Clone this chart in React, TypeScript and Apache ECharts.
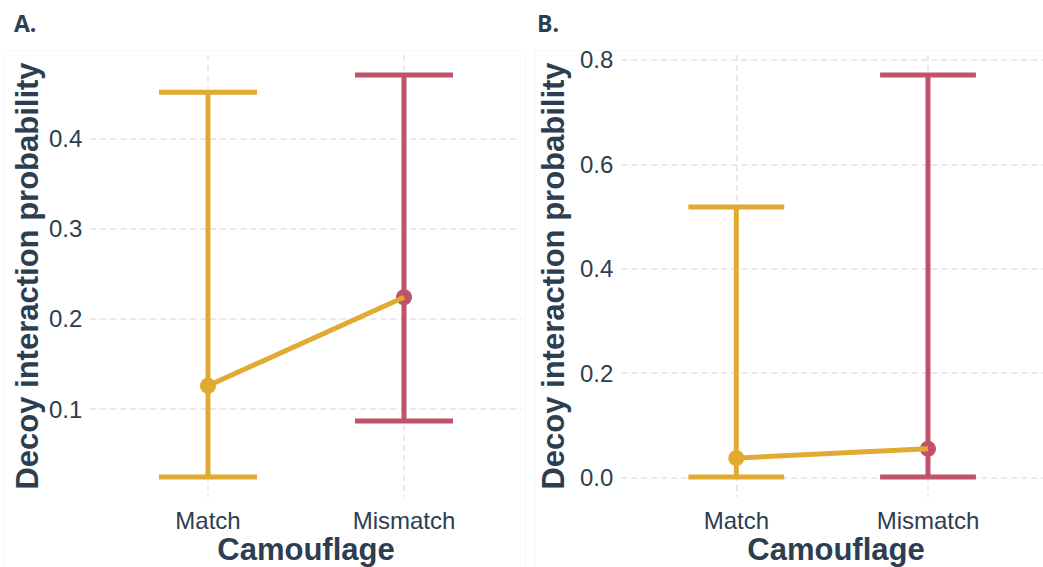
import React, { useEffect, useRef } from "react";
import * as echarts from "echarts";

// Camouflage treatment groups
const categories = ["Match", "Mismatch"];
const xPositions = [1, 2];

// Panel A: estimated probability with confidence limits
const panelAMean = [0.126, 0.224];
const panelALower = [0.025, 0.087];
const panelAUpper = [0.451, 0.47];
const panelATicks = [0.1, 0.2, 0.3, 0.4];

// Panel B: estimated probability with confidence limits
const panelBMean = [0.037, 0.055];
const panelBLower = [0.001, 0.001];
const panelBUpper = [0.518, 0.771];
const panelBTicks = [0.0, 0.2, 0.4, 0.6, 0.8];

const groupColors = ["#E1AA30", "#C0526A"];
const textColor = "#2C3E50";
const gridColor = "#E4E4E4";
const FONT = "'Liberation Sans', Arial, sans-serif";

const Y_TITLE = "Decoy interaction probability";
const X_TITLE = "Camouflage";

// 5% padding around the data range, like ggplot's default continuous expansion
function paddedRange(lower: number[], upper: number[]) {
  const lo = Math.min(...lower);
  const hi = Math.max(...upper);
  const pad = (hi - lo) * 0.05;
  return [lo - pad, hi + pad];
}

export default function App() {
  const ref = useRef<HTMLDivElement>(null);

  useEffect(() => {
    document.body.style.margin = "0";
    if (!ref.current) return;
    const chart = echarts.init(ref.current, undefined, { renderer: "svg" });

    const panels = [
      { mean: panelAMean, lower: panelALower, upper: panelAUpper, ticks: panelATicks },
      { mean: panelBMean, lower: panelBLower, upper: panelBUpper, ticks: panelBTicks },
    ];

    const grids = [
      { left: 90.4, top: 55, width: 431.2, height: 442 },
      { left: 621.3, top: 55, width: 429, height: 442 },
    ];

    const xAxes = grids.map((_, i) => ({
      type: "value",
      gridIndex: i,
      min: 0.4,
      max: 2.6,
      axisLine: { show: false },
      axisTick: { show: false, customValues: xPositions },
      axisLabel: {
        customValues: xPositions,
        formatter: (v: number) => categories[Math.round(v) - 1] ?? "",
        fontFamily: FONT,
        fontSize: 24,
        color: textColor,
        margin: 11,
      },
      splitLine: {
        show: true,
        lineStyle: { color: gridColor, width: 1.5, type: [6, 4] },
      },
    }));

    const yAxes = panels.map((p, i) => {
      const [min, max] = paddedRange(p.lower, p.upper);
      return {
        type: "value",
        gridIndex: i,
        min,
        max,
        axisLine: { show: false },
        axisTick: { show: false, customValues: p.ticks },
        axisLabel: {
          customValues: p.ticks,
          formatter: (v: number) => v.toFixed(1),
          fontFamily: FONT,
          fontSize: 24,
          color: textColor,
          margin: 8,
        },
        splitLine: {
          show: true,
          lineStyle: { color: gridColor, width: 1.5, type: [6, 4] },
        },
      };
    });

    const series: any[] = [];
    panels.forEach((p, i) => {
      // error bars with caps
      series.push({
        type: "custom",
        xAxisIndex: i,
        yAxisIndex: i,
        z: 2,
        encode: { x: 0, y: [1, 2] },
        data: xPositions.map((x, k) => [x, p.lower[k], p.upper[k]]),
        renderItem: (params: any, api: any) => {
          const x = api.value(0);
          const pLo = api.coord([x, api.value(1)]);
          const pHi = api.coord([x, api.value(2)]);
          const half = api.size([0.25, 0])[0];
          const style = { stroke: groupColors[params.dataIndex], lineWidth: 5, fill: "none" };
          return {
            type: "group",
            children: [
              { type: "line", shape: { x1: pLo[0], y1: pLo[1], x2: pHi[0], y2: pHi[1] }, style },
              { type: "line", shape: { x1: pHi[0] - half, y1: pHi[1], x2: pHi[0] + half, y2: pHi[1] }, style },
              { type: "line", shape: { x1: pLo[0] - half, y1: pLo[1], x2: pLo[0] + half, y2: pLo[1] }, style },
            ],
          };
        },
      });
      // point estimates
      series.push({
        type: "scatter",
        xAxisIndex: i,
        yAxisIndex: i,
        z: 3,
        symbolSize: 16,
        data: xPositions.map((x, k) => ({
          value: [x, p.mean[k]],
          itemStyle: { color: groupColors[k], opacity: 1 },
        })),
      });
      // connecting line
      series.push({
        type: "line",
        xAxisIndex: i,
        yAxisIndex: i,
        z: 4,
        showSymbol: false,
        lineStyle: { color: groupColors[0], width: 5 },
        data: xPositions.map((x, k) => [x, p.mean[k]]),
      });
    });

    const titleFont = `bold 31px ${FONT}`;
    const panelFont = `bold 23px 'Open Sans', sans-serif`;
    const graphic: any[] = [
      { type: "rect", shape: { x: 4.5, y: 50.5, width: 521, height: 540 }, style: { fill: "none", stroke: "#F8F8F8", lineWidth: 1 }, z: -1 },
      { type: "rect", shape: { x: 535.5, y: 50.5, width: 540, height: 540 }, style: { fill: "none", stroke: "#F8F8F8", lineWidth: 1 }, z: -1 },
      { type: "text", x: 14, y: 23, style: { text: "A.", font: panelFont, fill: textColor, verticalAlign: "middle" } },
      { type: "text", x: 537, y: 23, style: { text: "B.", font: panelFont, fill: textColor, verticalAlign: "middle" } },
      { type: "text", x: 27, y: 276, rotation: Math.PI / 2, style: { text: Y_TITLE, font: titleFont, fill: textColor, align: "center", verticalAlign: "middle" } },
      { type: "text", x: 553, y: 276, rotation: Math.PI / 2, style: { text: Y_TITLE, font: titleFont, fill: textColor, align: "center", verticalAlign: "middle" } },
      { type: "text", x: 306, y: 549, style: { text: X_TITLE, font: titleFont, fill: textColor, align: "center", verticalAlign: "middle" } },
      { type: "text", x: 836, y: 549, style: { text: X_TITLE, font: titleFont, fill: textColor, align: "center", verticalAlign: "middle" } },
    ];

    chart.setOption({
      animation: false,
      backgroundColor: "#ffffff",
      grid: grids,
      xAxis: xAxes,
      yAxis: yAxes,
      series,
      graphic,
    });

    return () => chart.dispose();
  }, []);

  return <div ref={ref} style={{ width: 1043, height: 567, position: "absolute", left: 0, top: 0 }} />;
}
